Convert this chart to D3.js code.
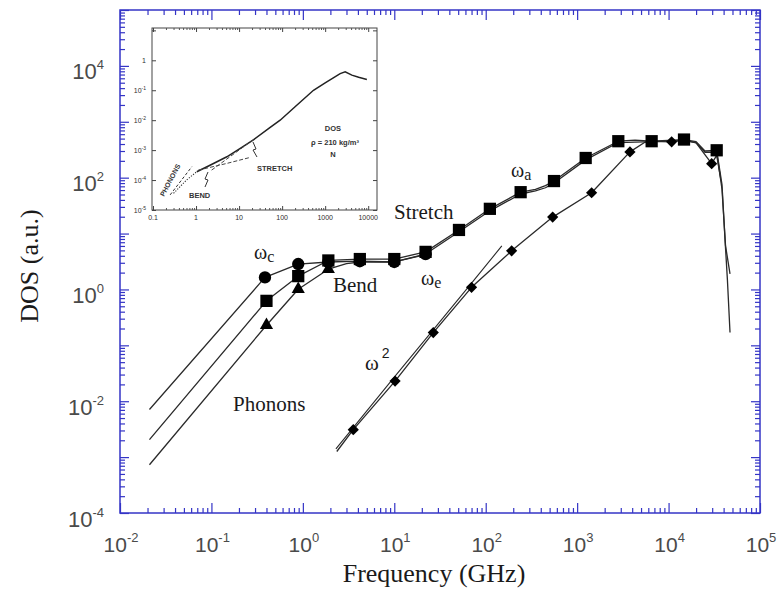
<!DOCTYPE html>
<html>
<head>
<meta charset="utf-8">
<script src="https://cdn.jsdelivr.net/npm/d3@7"></script>
<style>
  body { margin: 0; background: #fff; }
  svg { display: block; }
</style>
</head>
<body>
<svg id="chart" width="781" height="597"></svg>
<script>
// ---- Density of states vs frequency (log-log) ----

// axis decades
const xMajorPowers = [-2, -1, 0, 1, 2, 3, 4, 5];
const xLabelPowers = [-2, -1, 0, 1, 2, 3, 4, 5];
const yMajorPowers = [-4, -3, -2, -1, 0, 1, 2, 3, 4, 5];
const yLabelPowers = [-4, -2, 0, 2, 4];

// ωc curve (circles)
const circleLineF = [0.021, 0.385, 0.89, 1.9, 4.2, 10, 22, 51, 111, 241, 350, 450, 558, 1240, 2820, 6530, 14750, 20000, 25000, 33600, 38400, 42000, 47000];
const circleLineV = [7.1e-3, 1.64, 2.85, 3.1, 3.2, 3.1, 4.3, 10.8, 25.5, 51, 58, 66, 80, 208, 425, 440, 465, 425, 285, 285, 62, 6, 1.9];
const circleMarkF = [0.385, 0.89, 1.9, 4.2, 10, 22];
const circleMarkV = [1.64, 2.85, 3.1, 3.2, 3.1, 4.3];

// ωa curve (squares)
const squareLineF = [0.021, 0.40, 0.89, 1.9, 4.2, 10, 22, 51, 111, 241, 350, 450, 558, 1240, 2820, 4300, 6530, 14750, 20000, 25000, 33600, 38400, 41400, 44000, 47000];
const squareLineV = [2.05e-3, 0.625, 1.73, 3.3, 3.5, 3.5, 4.7, 11.6, 27.7, 55, 62, 72, 87, 225, 449, 470, 449, 481, 440, 300, 309, 75, 8, 1.5, 0.17];
const squareMarkF = [0.40, 0.89, 1.9, 4.2, 10, 22, 51, 111, 241, 558, 1240, 2820, 6530, 14750, 33600];
const squareMarkV = [0.625, 1.73, 3.3, 3.5, 3.5, 4.7, 11.6, 27.7, 55, 87, 225, 449, 449, 481, 309];

// ωe curve (triangles)
const triangleLineF = [0.021, 0.40, 0.89, 1.9, 3.0, 4.2, 10, 22];
const triangleLineV = [7.3e-4, 0.229, 1.01, 2.3, 2.9, 3.1, 3.1, 4.2];
const triangleMarkF = [0.40, 0.89, 1.9];
const triangleMarkV = [0.229, 1.01, 2.3];

// bulk curve (diamonds)
const diamondLineF = [2.35, 3.56, 10.2, 26.7, 70, 192, 540, 1440, 3780, 5500, 6530, 10800, 14750, 20000, 29600, 33600, 37000];
const diamondLineV = [1.26e-3, 3.1e-3, 0.0229, 0.169, 1.09, 4.9, 19.7, 53.7, 289, 430, 445, 438, 470, 420, 178, 250, 100];
const diamondMarkF = [3.56, 10.2, 26.7, 70, 192, 540, 1440, 3780, 10800, 29600];
const diamondMarkV = [3.1e-3, 0.0229, 0.169, 1.09, 4.9, 19.7, 53.7, 289, 438, 178];

// ω² guide
const omega2F = [2.3, 10, 30, 70, 150];
const omega2V = [1.4e-3, 0.027, 0.24, 1.3, 6.0];

// inset: aerogel DOS
const insetMainF = [1.04, 2, 5.2, 10, 21.5, 50, 90, 200, 535, 1000, 2230, 2920, 4170, 6000, 9300];
const insetMainV = [1.9e-4, 3.0e-4, 6e-4, 1.08e-3, 2.2e-3, 5.4e-3, 0.01, 0.028, 0.1, 0.175, 0.36, 0.41, 0.32, 0.27, 0.23];
const insetPhononF = [0.25, 0.8];
const insetPhononV = [3.2e-5, 2.8e-4];
const insetBendDotF = [0.30, 0.6, 1.04];
const insetBendDotV = [3.6e-5, 1.0e-4, 1.9e-4];
const insetBendDashF = [1.13, 5.2, 18];
const insetBendDashV = [2.15e-4, 3.6e-4, 5.7e-4];
const insetStretchF = [2.3, 23.4];
const insetStretchV = [2.15e-4, 2.45e-3];
const insetXTickLabels = ["0.1", "1", "10", "100", "1000", "10000"];
const insetXTickValues = [0.1, 1, 10, 100, 1000, 10000];
const insetYTickPowers = [-5, -4, -3, -2, -1, 0];

const zip = (a, b) => a.map((d, i) => [d, b[i]]);

const svg = d3.select("#chart");
const axisColor = "#3434c6";
const labelColor = "#4a4a4a";
const inkColor = "#1a1a1a";
const serif = "'Liberation Serif', 'Times New Roman', serif";
const sans = "'Liberation Sans', Arial, sans-serif";

const x = d3.scaleLog().domain([1e-2, 1e5]).range([120, 760]);
const y = d3.scaleLog().domain([1e-4, 1e5]).range([513, 10]);

// minor ticks 2..9 inside every decade
function minorTicks(p0, p1) {
  const out = [];
  for (let p = p0; p < p1; p++) for (let k = 2; k <= 9; k++) out.push(k * Math.pow(10, p));
  return out;
}
const xMajors = xMajorPowers.map(p => Math.pow(10, p));
const xMinors = minorTicks(-2, 5);
const yMajors = yMajorPowers.map(p => Math.pow(10, p));
const yMinors = minorTicks(-4, 5);

const axesG = svg.append("g");
function styleAxis(g) {
  g.selectAll("line").attr("stroke", axisColor).attr("stroke-width", 1.2);
  g.select(".domain").remove();
  g.selectAll("text").remove();
}
// bottom / top
[[d3.axisBottom, 513], [d3.axisTop, 10]].forEach(([ax, pos]) => {
  axesG.append("g").attr("transform", `translate(0,${pos})`)
    .call(ax(x).tickValues(xMajors).tickSize(-10).tickFormat("")).call(styleAxis);
  axesG.append("g").attr("transform", `translate(0,${pos})`)
    .call(ax(x).tickValues(xMinors).tickSize(-5).tickFormat("")).call(styleAxis);
});
// left / right
[[d3.axisLeft, 120], [d3.axisRight, 760]].forEach(([ax, pos]) => {
  axesG.append("g").attr("transform", `translate(${pos},0)`)
    .call(ax(y).tickValues(yMajors).tickSize(-9).tickFormat("")).call(styleAxis);
  axesG.append("g").attr("transform", `translate(${pos},0)`)
    .call(ax(y).tickValues(yMinors).tickSize(-5).tickFormat("")).call(styleAxis);
});
axesG.append("rect")
  .attr("x", 120).attr("y", 10).attr("width", 640).attr("height", 503)
  .attr("fill", "none").attr("stroke", axisColor).attr("stroke-width", 1.5);

// tick labels "10^n"
function powerLabel(sel, p, supShift, supSize) {
  sel.append("tspan").text("10");
  sel.append("tspan").attr("dy", -supShift).attr("font-size", supSize).text(String(p));
}
xLabelPowers.forEach(p => {
  const t = svg.append("text")
    .attr("x", x(Math.pow(10, p)) + 1).attr("y", 552)
    .attr("text-anchor", "middle")
    .attr("font-family", sans)
    .attr("font-size", 21).attr("fill", labelColor);
  powerLabel(t, p, 10, 13);
});
yLabelPowers.forEach(p => {
  const t = svg.append("text")
    .attr("x", 104).attr("y", y(Math.pow(10, p)) + 13.5)
    .attr("text-anchor", "end")
    .attr("font-family", sans)
    .attr("font-size", 22).attr("fill", labelColor);
  powerLabel(t, p, 10, 13);
});

// axis titles
svg.append("text").attr("x", 434).attr("y", 582).attr("text-anchor", "middle")
  .attr("font-family", serif).attr("font-size", 26)
  .attr("fill", inkColor).text("Frequency (GHz)");
svg.append("text").attr("transform", "translate(38,266) rotate(-90)").attr("text-anchor", "middle")
  .attr("font-family", serif).attr("font-size", 26)
  .attr("fill", inkColor).text("DOS (a.u.)");

// ---- curves ----
const line = d3.line().x(d => x(d[0])).y(d => y(d[1]));
const plotG = svg.append("g");
function drawLine(F, V, w) {
  plotG.append("path").datum(zip(F, V)).attr("d", line)
    .attr("fill", "none").attr("stroke", "#2a2a2a").attr("stroke-width", w || 1.3)
    .attr("stroke-linejoin", "round");
}
drawLine(omega2F, omega2V, 1.1);
drawLine(diamondLineF, diamondLineV);
drawLine(triangleLineF, triangleLineV);
drawLine(circleLineF, circleLineV);
drawLine(squareLineF, squareLineV);

function drawMarks(F, V, type, size) {
  plotG.append("g").selectAll("path").data(zip(F, V)).join("path")
    .attr("transform", d => `translate(${x(d[0])},${y(d[1])})`)
    .attr("d", d3.symbol().type(type).size(size))
    .attr("fill", "#000");
}
drawMarks(diamondMarkF, diamondMarkV, d3.symbolDiamond2, 80);
drawMarks(triangleMarkF, triangleMarkV, d3.symbolTriangle, 75);
drawMarks(circleMarkF, circleMarkV, d3.symbolCircle, 120);
drawMarks(squareMarkF, squareMarkV, d3.symbolSquare, 150);

// ---- annotations ----
function note(xp, yp, main, sub, size) {
  const t = svg.append("text").attr("x", xp).attr("y", yp)
    .attr("font-family", serif).attr("font-size", size || 21).attr("fill", inkColor);
  t.append("tspan").text(main);
  if (sub) t.append("tspan").attr("dy", 3).attr("font-size", 16).text(sub);
}
note(254, 259, "ω", "c", 20);
note(333, 292, "Bend");
note(421, 285, "ω", "e", 20);
note(394, 219, "Stretch");
note(511, 177, "ω", "a", 20);
note(233, 411, "Phonons");
const w2 = svg.append("text").attr("x", 365).attr("y", 370)
  .attr("font-family", serif).attr("font-size", 21).attr("fill", inkColor);
w2.append("tspan").text("ω");
w2.append("tspan").attr("dy", -12).attr("dx", 3).attr("font-size", 14)
  .attr("font-family", sans).text("2");

// ---- inset ----
const ix = d3.scaleLog().domain([0.1, 16000]).range([153, 377]);
const iy = d3.scaleLog().domain([1e-5, 12]).range([210, 28]);
const inset = svg.append("g");
const insetInk = "#2e2e2e";
inset.append("rect").attr("x", 152).attr("y", 28).attr("width", 225).attr("height", 182)
  .attr("fill", "none").attr("stroke", "#444").attr("stroke-width", 1);

const iMinorX = minorTicks(-1, 4).filter(v => v < 16000);
const iMajorX = [0.1, 1, 10, 100, 1000, 10000];
[[d3.axisBottom, 210], [d3.axisTop, 28]].forEach(([ax, pos]) => {
  inset.append("g").attr("transform", `translate(0,${pos})`)
    .call(ax(ix).tickValues(iMajorX).tickSize(-4).tickFormat(""))
    .call(g => { g.select(".domain").remove(); g.selectAll("line").attr("stroke", "#444"); });
  inset.append("g").attr("transform", `translate(0,${pos})`)
    .call(ax(ix).tickValues(iMinorX).tickSize(-2).tickFormat(""))
    .call(g => { g.select(".domain").remove(); g.selectAll("line").attr("stroke", "#555"); });
});
const iMajorY = [-5, -4, -3, -2, -1, 0, 1].map(p => Math.pow(10, p));
[[d3.axisLeft, 152], [d3.axisRight, 377]].forEach(([ax, pos]) => {
  inset.append("g").attr("transform", `translate(${pos},0)`)
    .call(ax(iy).tickValues(iMajorY).tickSize(-4).tickFormat(""))
    .call(g => { g.select(".domain").remove(); g.selectAll("line").attr("stroke", "#444"); });
});

insetXTickLabels.forEach((lab, i) => {
  inset.append("text").attr("x", ix(insetXTickValues[i])).attr("y", 220)
    .attr("text-anchor", "middle").attr("font-family", sans).attr("font-size", 7)
    .attr("fill", insetInk).text(lab);
});
insetYTickPowers.forEach(p => {
  const t = inset.append("text").attr("x", 146).attr("y", iy(Math.pow(10, p)) + 2.5)
    .attr("text-anchor", "end").attr("font-family", sans).attr("font-size", 7)
    .attr("fill", insetInk);
  if (p === 0) { t.text("1"); return; }
  t.append("tspan").text("10");
  t.append("tspan").attr("dy", -3).attr("font-size", 5).text(String(p));
});

const iline = d3.line().x(d => ix(d[0])).y(d => iy(d[1]));
inset.append("path").datum(zip(insetMainF, insetMainV)).attr("d", iline)
  .attr("fill", "none").attr("stroke", "#222").attr("stroke-width", 1.5);
inset.append("path").datum(zip(insetPhononF, insetPhononV)).attr("d", iline)
  .attr("fill", "none").attr("stroke", "#333").attr("stroke-width", 1).attr("stroke-dasharray", "3,2");
inset.append("path").datum(zip(insetBendDotF, insetBendDotV)).attr("d", iline)
  .attr("fill", "none").attr("stroke", "#333").attr("stroke-width", 1.1).attr("stroke-dasharray", "1.2,1.5");
inset.append("path").datum(zip(insetBendDashF, insetBendDashV)).attr("d", iline)
  .attr("fill", "none").attr("stroke", "#444").attr("stroke-width", 1).attr("stroke-dasharray", "4,2");
inset.append("path").datum(zip(insetStretchF, insetStretchV)).attr("d", iline)
  .attr("fill", "none").attr("stroke", "#444").attr("stroke-width", 1).attr("stroke-dasharray", "4,2");

// inset pointer arrows
inset.append("path").attr("d", "M257,157 L253,150 L256,149 L253,142")
  .attr("fill", "none").attr("stroke", "#333").attr("stroke-width", 1);
inset.append("path").attr("d", "M205,187 L208,180 L205,179 L208,172")
  .attr("fill", "none").attr("stroke", "#333").attr("stroke-width", 1);

const insetText = (xp, yp, s, anchor) => inset.append("text").attr("x", xp).attr("y", yp)
  .attr("text-anchor", anchor || "start").attr("font-family", sans).attr("font-size", 7.5)
  .attr("font-weight", "bold").attr("fill", "#333").text(s);
insetText(333, 131, "DOS", "middle");
insetText(335, 145, "ρ = 210 kg/m³", "middle");
insetText(333, 157, "N", "middle");
insetText(257, 171, "STRETCH");
insetText(189, 198, "BEND");
inset.append("text").attr("transform", "translate(164,197) rotate(-62)")
  .attr("font-family", sans).attr("font-size", 7).attr("font-weight", "bold")
  .attr("fill", "#333").text("PHONONS");
</script>
</body>
</html>
